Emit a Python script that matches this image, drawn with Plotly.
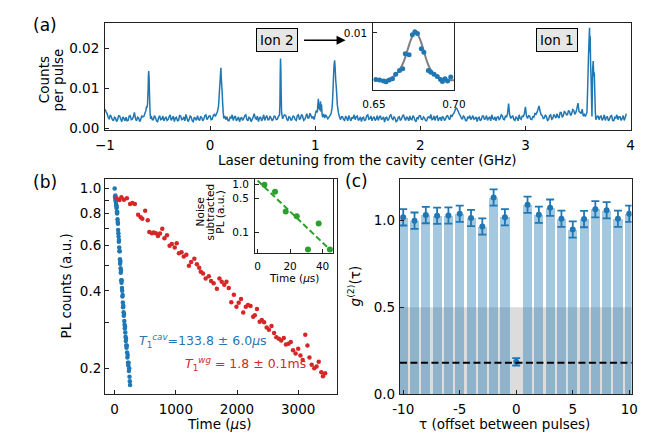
import numpy as np
import plotly.graph_objects as go

W, H = 649, 437
FONT = "DejaVu Sans"
BLUE, RED, GREEN = "#1f77b4", "#d62728", "#2ca02c"


def fx(px):
    return px / W


def fy(py):
    return 1 - py / H


# ---------------- (a) PLE spectrum ----------------
spec_start = -1.0
spec_step = 0.01
spec_base = [
    0.0048, 0.0042, 0.0037, 0.0028, 0.0023, 0.0034, 0.0029, 0.0022, 0.0019, 0.0028, 0.0026, 0.0017, 0.0022, 0.0032, 0.0031, 0.0023, 0.0017, 0.0029, 0.0025, 0.0019,
    0.0028, 0.0019, 0.0020, 0.0031, 0.0032, 0.0022, 0.0023, 0.0029, 0.0040, 0.0025, 0.0019, 0.0028, 0.0026, 0.0017, 0.0022, 0.0032, 0.0029, 0.0025, 0.0035, 0.0040,
    0.0045, 0.0050, 0.0060, 0.0050, 0.0040, 0.0028, 0.0022, 0.0032, 0.0028, 0.0019, 0.0017, 0.0026, 0.0032, 0.0022, 0.0023, 0.0031, 0.0019, 0.0025, 0.0029, 0.0020,
    0.0022, 0.0029, 0.0034, 0.0020, 0.0025, 0.0031, 0.0017, 0.0026, 0.0028, 0.0019, 0.0020, 0.0032, 0.0031, 0.0022, 0.0023, 0.0029, 0.0019, 0.0035, 0.0026, 0.0017,
    0.0022, 0.0031, 0.0029, 0.0019, 0.0017, 0.0028, 0.0025, 0.0020, 0.0032, 0.0023, 0.0020, 0.0029, 0.0028, 0.0019, 0.0023, 0.0032, 0.0034, 0.0022, 0.0026, 0.0031,
    0.0031, 0.0022, 0.0023, 0.0032, 0.0035, 0.0030, 0.0050, 0.0060, 0.0100, 0.0080, 0.0060, 0.0040, 0.0030, 0.0027, 0.0026, 0.0032, 0.0029, 0.0020, 0.0019, 0.0028,
    0.0026, 0.0034, 0.0020, 0.0028, 0.0031, 0.0019, 0.0023, 0.0029, 0.0017, 0.0025, 0.0028, 0.0020, 0.0025, 0.0032, 0.0034, 0.0022, 0.0019, 0.0028, 0.0026, 0.0017,
    0.0022, 0.0029, 0.0037, 0.0025, 0.0023, 0.0031, 0.0017, 0.0026, 0.0029, 0.0019, 0.0025, 0.0034, 0.0020, 0.0028, 0.0032, 0.0022, 0.0022, 0.0031, 0.0026, 0.0019,
    0.0023, 0.0032, 0.0029, 0.0022, 0.0030, 0.0030, 0.0050, 0.0040, 0.0035, 0.0030, 0.0030, 0.0034, 0.0032, 0.0023, 0.0019, 0.0029, 0.0028, 0.0020, 0.0023, 0.0032,
    0.0029, 0.0022, 0.0020, 0.0032, 0.0034, 0.0023, 0.0025, 0.0035, 0.0031, 0.0020, 0.0022, 0.0029, 0.0037, 0.0026, 0.0026, 0.0038, 0.0032, 0.0025, 0.0040, 0.0028,
    0.0030, 0.0030, 0.0030, 0.0030, 0.0030, 0.0030, 0.0030, 0.0030, 0.0030, 0.0030, 0.0030, 0.0030, 0.0030, 0.0030, 0.0030, 0.0030, 0.0030, 0.0030, 0.0030, 0.0030,
    0.0030, 0.0030, 0.0030, 0.0030, 0.0030, 0.0030, 0.0029, 0.0022, 0.0020, 0.0031, 0.0026, 0.0019, 0.0032, 0.0025, 0.0019, 0.0028, 0.0025, 0.0034, 0.0022, 0.0029,
    0.0031, 0.0020, 0.0023, 0.0029, 0.0017, 0.0026, 0.0028, 0.0019, 0.0022, 0.0032, 0.0034, 0.0023, 0.0025, 0.0031, 0.0019, 0.0026, 0.0029, 0.0020, 0.0023, 0.0032,
    0.0020, 0.0028, 0.0032, 0.0022, 0.0025, 0.0029, 0.0016, 0.0026, 0.0028, 0.0020, 0.0023, 0.0031, 0.0035, 0.0025, 0.0022, 0.0029, 0.0026, 0.0017, 0.0019, 0.0028,
    0.0029, 0.0020, 0.0023, 0.0031, 0.0034, 0.0025, 0.0020, 0.0029, 0.0026, 0.0019, 0.0031, 0.0023, 0.0022, 0.0032, 0.0028, 0.0020, 0.0017, 0.0028, 0.0025, 0.0032,
    0.0032, 0.0023, 0.0022, 0.0029, 0.0026, 0.0020, 0.0019, 0.0028, 0.0029, 0.0025, 0.0035, 0.0022, 0.0023, 0.0031, 0.0020, 0.0029, 0.0031, 0.0019, 0.0025, 0.0028,
    0.0019, 0.0029, 0.0028, 0.0020, 0.0023, 0.0031, 0.0032, 0.0025, 0.0022, 0.0034, 0.0029, 0.0035, 0.0038, 0.0045, 0.0052, 0.0048, 0.0043, 0.0036, 0.0032, 0.0026,
    0.0023, 0.0031, 0.0029, 0.0020, 0.0019, 0.0028, 0.0026, 0.0032, 0.0022, 0.0026, 0.0032, 0.0023, 0.0025, 0.0029, 0.0017, 0.0026, 0.0028, 0.0019, 0.0022, 0.0031,
    0.0031, 0.0022, 0.0025, 0.0032, 0.0020, 0.0026, 0.0028, 0.0019, 0.0034, 0.0025, 0.0023, 0.0029, 0.0019, 0.0028, 0.0029, 0.0022, 0.0025, 0.0034, 0.0032, 0.0023,
    0.0022, 0.0032, 0.0028, 0.0037, 0.0062, 0.0034, 0.0025, 0.0029, 0.0031, 0.0022, 0.0020, 0.0029, 0.0026, 0.0019, 0.0034, 0.0025, 0.0023, 0.0032, 0.0029, 0.0037,
    0.0054, 0.0031, 0.0025, 0.0032, 0.0031, 0.0023, 0.0022, 0.0029, 0.0028, 0.0037, 0.0035, 0.0040, 0.0048, 0.0056, 0.0042, 0.0034, 0.0032, 0.0025, 0.0026, 0.0034,
    0.0029, 0.0020, 0.0022, 0.0032, 0.0034, 0.0023, 0.0025, 0.0035, 0.0031, 0.0026, 0.0037, 0.0029, 0.0026, 0.0040, 0.0040, 0.0028, 0.0032, 0.0042, 0.0040, 0.0034,
    0.0034, 0.0045, 0.0042, 0.0032, 0.0037, 0.0047, 0.0045, 0.0035, 0.0040, 0.0050, 0.0063, 0.0042, 0.0040, 0.0037, 0.0048, 0.0031, 0.0035, 0.0030, 0.0030, 0.0030,
    0.0030, 0.0030, 0.0030, 0.0030, 0.0030, 0.0030, 0.0030, 0.0030, 0.0030, 0.0032, 0.0022, 0.0029, 0.0031, 0.0020, 0.0025, 0.0034, 0.0020, 0.0028, 0.0029, 0.0019,
    0.0023, 0.0031, 0.0032, 0.0020, 0.0019, 0.0028, 0.0026, 0.0034, 0.0022, 0.0029, 0.0029, 0.0020, 0.0025, 0.0032, 0.0020, 0.0028, 0.0037,
]
peak1_x = [-0.63, -0.62, -0.61, -0.605, -0.60, -0.595, -0.59, -0.587, -0.584, -0.58,
           -0.577, -0.573, -0.57, -0.565, -0.56, -0.55]
peak1_y = [0.0030, 0.0038, 0.0045, 0.0055, 0.0052, 0.0062, 0.0095, 0.0130, 0.0143, 0.0125,
           0.0090, 0.0055, 0.0035, 0.0024, 0.0031, 0.0022]
peak2_x = [0.05, 0.06, 0.07, 0.08, 0.085, 0.09, 0.095, 0.10, 0.103, 0.106, 0.11, 0.115,
           0.12, 0.125, 0.13, 0.14, 0.15]
peak2_y = [0.0030, 0.0036, 0.0042, 0.0055, 0.0075, 0.0098, 0.0118, 0.0140, 0.0151, 0.0130,
           0.0110, 0.0090, 0.0060, 0.0040, 0.0025, 0.0031, 0.0022]
peak3_x = [0.64, 0.65, 0.66, 0.664, 0.667, 0.670, 0.673, 0.676, 0.68, 0.69, 0.70]
peak3_y = [0.0023, 0.0030, 0.0033, 0.0060, 0.0130, 0.0174, 0.0150, 0.0090, 0.0040, 0.0024, 0.0031]
peak4_x = [0.98, 0.99, 1.00, 1.01, 1.02, 1.025, 1.03, 1.035, 1.04, 1.045, 1.05, 1.055,
           1.06, 1.065, 1.07, 1.08, 1.09, 1.10, 1.12, 1.14, 1.15, 1.16, 1.165, 1.17,
           1.175, 1.18, 1.185, 1.19, 1.195, 1.20, 1.205, 1.21, 1.22, 1.23, 1.24, 1.25]
peak4_y = [0.0030, 0.0022, 0.0034, 0.0045, 0.0040, 0.0058, 0.0074, 0.0048, 0.0062, 0.0045,
           0.0068, 0.0042, 0.0060, 0.0038, 0.0028, 0.0036, 0.0026, 0.0034, 0.0024, 0.0032,
           0.0036, 0.0050, 0.0070, 0.0100, 0.0135, 0.0160, 0.0170, 0.0150, 0.0120, 0.0105,
           0.0085, 0.0060, 0.0040, 0.0030, 0.0022, 0.0029]
peak5_x = [3.57, 3.585, 3.59, 3.595, 3.60, 3.605, 3.61, 3.613, 3.616, 3.62, 3.625, 3.63,
           3.633, 3.637, 3.64, 3.645, 3.65, 3.655, 3.66, 3.665, 3.67, 3.68]
peak5_y = [0.0030, 0.0040, 0.0080, 0.0130, 0.0180, 0.0220, 0.0251, 0.0190, 0.0230, 0.0160,
           0.0120, 0.0060, 0.0030, 0.0100, 0.0150, 0.0168, 0.0130, 0.0140, 0.0090, 0.0040,
           0.0022, 0.0029]

# inset of (a)
inset_a_x = [0.6512, 0.6536, 0.6560, 0.6576, 0.6596, 0.6616, 0.6636, 0.6660, 0.6680, 0.6696,
             0.6720, 0.6740, 0.6756, 0.6772, 0.6796, 0.6812, 0.6840, 0.6856, 0.6876, 0.6896,
             0.6916, 0.6928, 0.6944, 0.6960, 0.6980]
inset_a_y = [0.00347, 0.00340, 0.00327, 0.00314, 0.00340, 0.00356, 0.00420, 0.00474, 0.00496, 0.00708,
             0.00695, 0.00975, 0.01017, 0.00991, 0.00779, 0.00728, 0.00474, 0.00449, 0.00420, 0.00390,
             0.00347, 0.00318, 0.00356, 0.00327, 0.00382]
fit_a_x = [0.650, 0.655, 0.658, 0.661, 0.664, 0.667, 0.669, 0.671, 0.673, 0.675, 0.676,
           0.677, 0.679, 0.681, 0.683, 0.685, 0.688, 0.691, 0.694, 0.697, 0.700]
fit_a_y = [0.00338, 0.00338, 0.00345, 0.00370, 0.00420, 0.00520, 0.00620, 0.00760, 0.00900,
           0.00990, 0.01000, 0.00990, 0.00900, 0.00760, 0.00610, 0.00500, 0.00410, 0.00365,
           0.00345, 0.00338, 0.00338]

# ---------------- (b) lifetimes ----------------
cav_t = [0, 6, 9, 12, 14, 17, 20, 23, 26, 30, 33, 36, 40, 43, 47, 50, 54, 57, 61, 64,
         68, 71, 75, 78, 82, 86, 89, 93, 97, 100, 104, 108, 112, 115, 119, 123, 127, 131, 134, 138,
         142, 146, 150, 154, 158, 162, 166, 170, 174, 178, 182, 186, 190, 194, 198, 203, 208, 213, 218, 223,
         228, 233, 238, 243, 248, 252]
cav_pl = [1.00, 0.93, 0.92, 0.94, 0.91, 0.89, 0.90, 0.87, 0.86, 0.84,
          0.85, 0.81, 0.80, 0.81, 0.76, 0.74, 0.73, 0.69, 0.67, 0.65,
          0.62, 0.63, 0.59, 0.57, 0.57, 0.53, 0.51, 0.52, 0.49, 0.47,
          0.48, 0.44, 0.43, 0.44, 0.41, 0.40, 0.38, 0.385, 0.36, 0.345,
          0.35, 0.33, 0.32, 0.325, 0.305, 0.295, 0.285, 0.29, 0.275, 0.265,
          0.255, 0.26, 0.245, 0.24, 0.245, 0.23, 0.22, 0.225, 0.21, 0.205,
          0.21, 0.195, 0.20, 0.185, 0.178, 0.172]
wg_t = [32, 79, 110, 152, 200, 252, 289, 331, 384, 426,
        452, 499, 541, 567, 609, 636, 673, 709, 741, 778,
        814, 856, 898, 935, 982, 1014, 1051, 1093, 1130, 1172,
        1214, 1250, 1303, 1345, 1382, 1408, 1445, 1487, 1539, 1576,
        1618, 1671, 1713, 1750, 1792, 1828, 1865, 1907, 1949, 1991,
        2028, 2065, 2102, 2144, 2180, 2222, 2264, 2291, 2327, 2370,
        2406, 2443, 2485, 2522, 2564, 2606, 2643, 2685, 2722, 2764,
        2800, 2842, 2879, 2916, 2958, 3000, 3037, 3074, 3116, 3152,
        3184, 3221, 3263, 3300, 3336, 3378, 3405, 3441]
wg_pl = [0.916, 0.902, 0.924, 0.905, 0.916, 0.871, 0.879, 0.871, 0.791, 0.773,
         0.762, 0.819, 0.752, 0.677, 0.669, 0.674, 0.669, 0.654, 0.668, 0.698,
         0.641, 0.658, 0.599, 0.608, 0.590, 0.612, 0.560, 0.565, 0.544, 0.553,
         0.500, 0.518, 0.533, 0.507, 0.492, 0.474, 0.467, 0.447, 0.456, 0.437,
         0.428, 0.407, 0.447, 0.434, 0.422, 0.434, 0.410, 0.361, 0.386, 0.347,
         0.359, 0.372, 0.329, 0.347, 0.352, 0.349, 0.317, 0.321, 0.340, 0.303,
         0.308, 0.302, 0.288, 0.282, 0.292, 0.274, 0.264, 0.260, 0.256, 0.262,
         0.247, 0.249, 0.253, 0.235, 0.228, 0.238, 0.224, 0.215, 0.270, 0.245,
         0.220, 0.206, 0.200, 0.203, 0.212, 0.193, 0.186, 0.191]
noise_t = [4.2, 10.7, 17.3, 24.1, 31.0, 37.6, 44.5]
noise_pl = [0.98, 0.70, 0.272, 0.215, 0.044, 0.153, 0.044]
noise_fit_t = [0.0, 45.0]
noise_fit_pl = [1.2, 0.042]

# ---------------- (c) g2 ----------------
tau = list(range(-10, 11))
g2 = [1.019, 1.000, 1.032, 1.028, 1.030, 1.040, 1.015, 0.966, 1.134, 1.020, 0.185,
      1.092, 1.034, 1.075, 1.011, 0.949, 1.009, 1.066, 1.060, 1.011, 1.040]
g2_err = [0.047, 0.047, 0.047, 0.047, 0.047, 0.047, 0.047, 0.047, 0.047, 0.047, 0.021,
          0.047, 0.047, 0.047, 0.047, 0.047, 0.047, 0.047, 0.047, 0.047, 0.047]
g2_threshold = 0.18
g2_band = 0.5

# ---------------- assemble spectrum ----------------
base_x = np.round(spec_start + spec_step * np.arange(len(spec_base)), 3)
base_y = np.array(spec_base)
keep = np.ones(len(base_x), dtype=bool)
peaks = [(peak1_x, peak1_y), (peak2_x, peak2_y), (peak3_x, peak3_y),
         (peak4_x, peak4_y), (peak5_x, peak5_y)]
for pxs, pys in peaks:
    keep &= ~((base_x >= min(pxs)) & (base_x <= max(pxs)))
sx = np.concatenate([base_x[keep]] + [np.array(p[0]) for p in peaks])
sy = np.concatenate([base_y[keep]] + [np.array(p[1]) for p in peaks])
order = np.argsort(sx)
sx, sy = sx[order], sy[order]

fig = go.Figure()
fig.add_trace(go.Scatter(x=sx, y=sy, mode="lines",
                         line=dict(color=BLUE, width=1.5, simplify=False),
                         xaxis="x", yaxis="y", showlegend=False))
fig.add_trace(go.Scatter(x=fit_a_x, y=fit_a_y, mode="lines",
                         line=dict(color="#7f7f7f", width=2, shape="spline"),
                         xaxis="x2", yaxis="y2", showlegend=False))
fig.add_trace(go.Scatter(x=inset_a_x, y=inset_a_y, mode="markers",
                         marker=dict(color=BLUE, size=5), xaxis="x2", yaxis="y2",
                         showlegend=False))
fig.add_trace(go.Scatter(x=cav_t, y=cav_pl, mode="markers", marker=dict(color=BLUE, size=4.5),
                         xaxis="x3", yaxis="y3", showlegend=False))
fig.add_trace(go.Scatter(x=wg_t, y=wg_pl, mode="markers", marker=dict(color=RED, size=4.5),
                         xaxis="x3", yaxis="y3", showlegend=False))
fig.add_trace(go.Scatter(x=noise_fit_t, y=noise_fit_pl, mode="lines",
                         line=dict(color=GREEN, width=2, dash="6px,3px"),
                         xaxis="x4", yaxis="y4", showlegend=False))
fig.add_trace(go.Scatter(x=noise_t, y=noise_pl, mode="markers", marker=dict(color=GREEN, size=6),
                         xaxis="x4", yaxis="y4", showlegend=False))
bar_tau = [t for t in tau if t != 0]
bar_g2 = [g for t, g in zip(tau, g2) if t != 0]
fig.add_trace(go.Bar(x=bar_tau, y=bar_g2, width=0.8, marker=dict(color=BLUE, line=dict(width=0)),
                     opacity=0.4, xaxis="x5", yaxis="y5", showlegend=False))
fig.add_trace(go.Scatter(x=tau, y=g2, mode="markers", marker=dict(color=BLUE, size=6),
                         error_y=dict(type="data", array=g2_err, color=BLUE, thickness=1.8, width=4),
                         xaxis="x5", yaxis="y5", showlegend=False))


def axis(domain, rng, tickvals, ticktext, anchor, size=13.5, typ="linear", standoff=0):
    return dict(domain=domain, range=rng, tickvals=tickvals, ticktext=ticktext, anchor=anchor,
                type=typ, ticks="inside", ticklen=4, tickwidth=1, tickcolor="#222",
                showline=True, linecolor="#222", linewidth=1, mirror=True, showgrid=False,
                zeroline=False, tickfont=dict(family=FONT, size=size, color="black"),
                ticklabelstandoff=standoff, fixedrange=True)


layout = dict(
    width=W, height=H, margin=dict(l=0, r=0, t=0, b=0),
    paper_bgcolor="white", plot_bgcolor="white", bargap=0,
    font=dict(family=FONT, color="black"),
    xaxis=axis([fx(89), fx(633)], [-1, 4], [-1, 0, 1, 2, 3, 4],
               ["\u22121", "0", "1", "2", "3", "4"], "y", standoff=3),
    yaxis=axis([fy(123.5), fy(14)], [-0.00037, 0.02635], [0, 0.01, 0.02],
               ["0.00", "0.01", "0.02"], "x", standoff=2),
    xaxis2=axis([fx(366.7), fx(450.7)], [0.6496, 0.7003], [0.65, 0.70], ["0.65", "0.70"], "y2",
                10.5, standoff=4),
    yaxis2=axis([fy(82.7), fy(14)], [0.0020, 0.01143], [0.01], ["0.01"], "x2", 10.5, standoff=3),
    xaxis3=axis([fx(89), fx(329)], [-158, 3632], [0, 1000, 2000, 3000],
                ["0", "1000", "2000", "3000"], "y3", standoff=3),
    yaxis3=axis([fy(392.7), fy(173.3)], [-0.798, 0.038],
                [0.2, 0.3, 0.4, 0.5, 0.6, 0.7, 0.8, 0.9, 1.0],
                ["0.2", "", "0.4", "", "0.6", "", "0.8", "", "1.0"], "x3", typ="log", standoff=0),
    xaxis4=axis([fx(244.3), fx(325)], [-1.6, 46.4], [0, 20, 40], ["0", "20", "40"], "y4", 10.5,
                standoff=3),
    yaxis4=axis([fy(249.3), fy(174)], [-1.435, 0.102], [0.1, 0.5, 1.0],
                ["0.1", "0.5", "1.0"], "x4", 10.5, typ="log", standoff=3),
    xaxis5=axis([fx(394.3), fx(634)], [-10.29, 10.2], [-10, -5, 0, 5, 10],
                ["-10", "-5", "0", "5", "10"], "y5", standoff=3),
    yaxis5=axis([fy(393), fy(173.3)], [0, 1.242], [0, 0.5, 1.0], ["0.0", "0.5", "1.0"], "x5",
                standoff=1),
)
fig.update_layout(**layout)

fig.add_shape(type="rect", xref="x5 domain", yref="y5", x0=0, x1=1, y0=0, y1=g2_band,
              fillcolor="#dcdcdc", line=dict(width=0), layer="below")
fig.add_shape(type="line", xref="x5 domain", yref="y5", x0=0, x1=1, y0=g2_threshold,
              y1=g2_threshold, line=dict(color="black", width=2, dash="7px,3.5px"))


def text(s, px, py, size=13.5, color="black", angle=0, xanchor="center", **kw):
    fig.add_annotation(text=s, x=fx(px), y=fy(py), xref="paper", yref="paper",
                       showarrow=False, textangle=angle, xanchor=xanchor, yanchor="middle",
                       font=dict(family=FONT, size=size, color=color), **kw)


text("(a)", 26.7, 16, 17)
text("(b)", 26.7, 177, 17)
text("(c)", 349, 176, 17)
text("Laser detuning from the cavity center (GHz)", 361, 154)
text("Counts", 25.5, 72, angle=-90)
text("per pulse", 40.5, 73, angle=-90)
text("PL counts (a.u.)", 49, 283, angle=-90)
text("Time (<i>\u03bc</i>s)", 208, 424)
text("Noise", 187, 207, 10.5, angle=-90)
text("subtracted", 197.5, 207, 10.5, angle=-90)
text("PL (a.u.)", 208, 207, 10.5, angle=-90)
text("Time (<i>\u03bc</i>s)", 285, 275, 10.5)
text("<i>g</i><sup>(2)</sup>(\u03c4)", 347, 283, angle=-90)
text("\u03c4 (offset between pulses)", 503, 424)
text("<i>T</i><sub>1</sub><sup><i>cav</i></sup>=133.8 \u00b1 6.0<i>\u03bc</i>s", 121.7, 339,
     size=12.5, color=BLUE, xanchor="left")
text("<i>T</i><sub>1</sub><sup><i>wg</i></sup> = 1.8 \u00b1 0.1ms", 170, 362,
     size=12.5, color=RED, xanchor="left")
text("Ion 2", 267.5, 32, bgcolor="#e6e6e6", bordercolor="black", borderwidth=1, borderpad=3)
text("Ion 1", 557, 32, bgcolor="#e6e6e6", bordercolor="black", borderwidth=1, borderpad=3)
fig.add_annotation(text="", x=fx(338), y=fy(32), xref="paper", yref="paper",
                   showarrow=True, ax=-43, ay=0, arrowhead=2, arrowsize=1.2,
                   arrowwidth=1.5, arrowcolor="black")

fig.write_html("out.html")
